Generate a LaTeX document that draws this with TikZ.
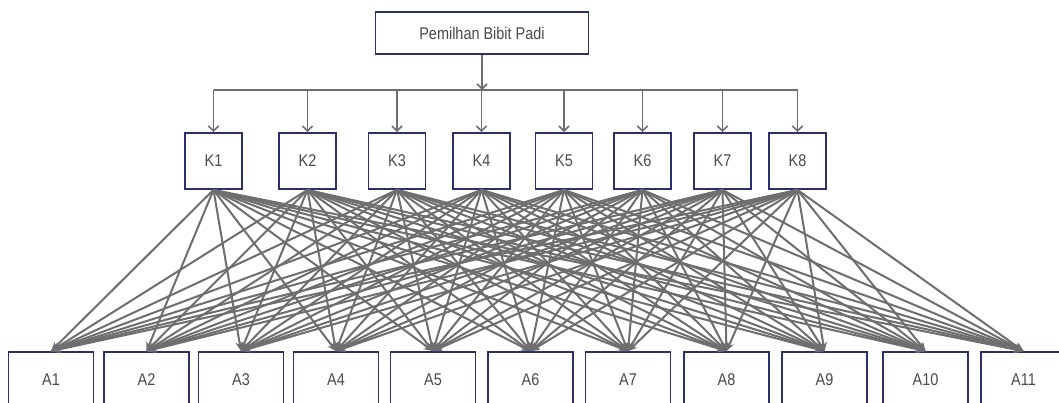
\documentclass[tikz,border=0pt]{standalone}
\usepackage{fontspec}
\setmainfont{Liberation Sans}
\usetikzlibrary{arrows.meta}
\definecolor{boxline}{HTML}{2B2F6E}
\definecolor{conn}{HTML}{6E6E6E}
\definecolor{txt}{HTML}{4A4A4A}
\newcommand{\lbl}[1]{\scalebox{0.85}[1]{#1}}
\tikzset{
  box/.style={draw=boxline, line width=1.8pt, fill=white, inner sep=0pt,
    text=txt, font=\fontsize{17}{19}\selectfont},
  kbox/.style={box, minimum width=57pt, minimum height=56pt},
  abox/.style={box, minimum width=85pt, minimum height=56pt},
  conn/.style={draw=conn, line width=2pt, -{Stealth[length=9pt,width=8pt]}},
  drop/.style={draw=conn, line width=1.6pt, -{Straight Barb[length=5pt,width=10pt]}},
}
\begin{document}
\begin{tikzpicture}[x=1pt,y=-1pt]
\useasboundingbox (0,0) rectangle (1059,403);
\clip (0,0) rectangle (1059,403);
\fill[white] (0,0) rectangle (1059,403);
\node[box, minimum width=213pt, minimum height=42pt] (top) at (482,33) {\lbl{Pemilhan Bibit Padi}};
\foreach \n/\x in {1/213.5,2/307.5,3/397,4/481.5,5/564,6/642.5,7/722.5,8/797.5}{
  \node[kbox] (K\n) at (\x,161) {\lbl{K\n}};
  \coordinate (b\n) at (\x,90);
}
\coordinate (bar) at (482,90);
\draw[conn, line width=1.6pt, -] (b1) -- (b8);
\draw[drop] (top.south) -- (bar);
\foreach \n in {1,...,8}{
  \draw[drop] (b\n) -- (K\n.north);
}
\foreach \n/\x in {1/51,2/146.5,3/241,4/336,5/433,6/530.5,7/628,8/726.5,9/824.5,10/925.5,11/1023.5}{
  \node[abox] (A\n) at (\x,380) {\lbl{A\n}};
}
\foreach \k in {1,...,8}{
  \foreach \a in {1,...,11}{
    \draw[conn] (K\k.south) -- (A\a.north);
  }
}
\end{tikzpicture}
\end{document}
